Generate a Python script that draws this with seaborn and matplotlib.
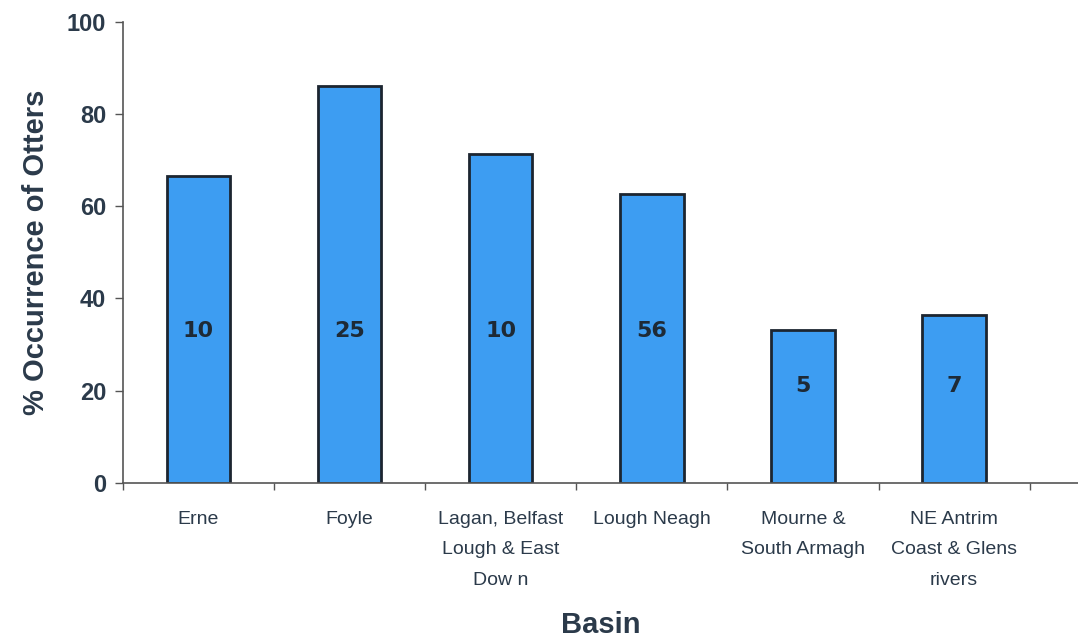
import seaborn as sns
import pandas as pd
import numpy as np
import matplotlib.pyplot as plt

basins = ['Erne', 'Foyle', 'Lagan, Belfast\nLough & East\nDow n', 'Lough Neagh',
          'Mourne &\nSouth Armagh', 'NE Antrim\nCoast & Glens\nrivers']
occurrence = [66.6, 86.0, 71.4, 62.6, 33.2, 36.4]
site_counts = ['10', '25', '10', '56', '5', '7']

sns.set_theme(style='white')
plt.rcParams['font.family'] = ['Liberation Sans', 'DejaVu Sans']

txt = '#2b3a4a'
df = pd.DataFrame({'basin': basins, 'pct': occurrence, 'n': site_counts})

fig = plt.figure(figsize=(10.78, 6.42), dpi=100)
ax = fig.add_axes([0.114, 0.248, 0.886, 0.718])
sns.barplot(data=df, x='basin', y='pct', ax=ax, color='#3d9df2', saturation=1,
            width=0.42, edgecolor='#1c2530', linewidth=2)

# site counts written inside the bars
for i, row in df.iterrows():
    y = 33 if row['pct'] > 40 else 21
    ax.text(i, y, row['n'], ha='center', va='center', fontsize=16,
            fontweight='bold', color='#1e2a36', family=['DejaVu Sans'])

ax.set_ylim(0, 100)
ax.set_xlim(-0.5, 5.82)
ax.set_yticks([0, 20, 40, 60, 80, 100])
ax.set_xticks(np.arange(len(basins)))
ax.set_xticklabels(basins, fontsize=14, color=txt, va='top')
for lab in ax.get_xticklabels():
    lab.set_linespacing(2.05)
ax.set_xticks(np.arange(-0.5, len(basins), 1), minor=True)
ax.tick_params(axis='x', which='major', bottom=False, length=0, pad=20)
ax.tick_params(axis='x', which='minor', bottom=True, length=5, width=1,
               color='#555555', direction='out')
ax.tick_params(axis='y', left=True, length=6, width=1, color='#555555', labelsize=17,
               labelcolor=txt, direction='out', pad=6)
for lab in ax.get_yticklabels():
    lab.set_fontweight('bold')

for s in ['top', 'right']:
    ax.spines[s].set_visible(False)
for s in ['left', 'bottom']:
    ax.spines[s].set_color('#555555')
    ax.spines[s].set_linewidth(1.2)

ax.set_ylabel('% Occurrence of Otters', fontsize=21, fontweight='bold', color=txt, labelpad=12)
ax.set_xlabel('Basin', fontsize=21, fontweight='bold', color=txt, labelpad=16)

fig.savefig('out.png', dpi=100)
